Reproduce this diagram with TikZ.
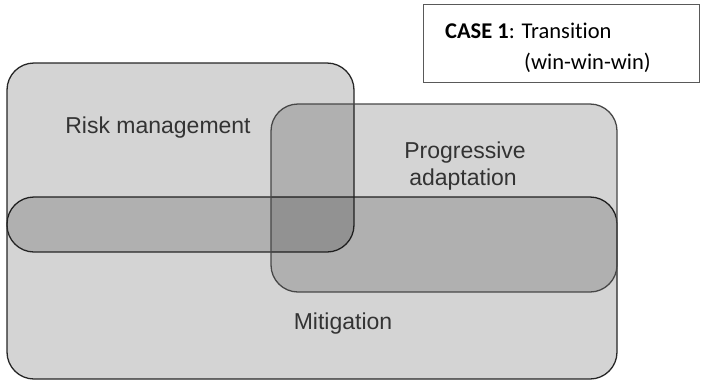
\documentclass[tikz,border=0pt]{standalone}
\usepackage{fontspec}
\setmainfont{Liberation Sans}
\newfontfamily\calfont[Ligatures={NoCommon}]{Carlito}
\begin{document}
\begin{tikzpicture}[x=1pt,y=-1pt,
  region/.style={draw=black!85, line width=1.3pt, fill=black, fill opacity=0.17, draw opacity=1,
    rounded corners=27pt, inner sep=0pt, outer sep=0pt, anchor=north west, rectangle},
  lab/.style={text=black!80, font=\fontsize{23}{27}\selectfont, anchor=base, inner sep=0pt},
  casebox/.style={draw=black!65, line width=0.9pt, fill=white, inner sep=0pt, outer sep=0pt, anchor=north west, rectangle},
  caselab/.style={text=black, font=\calfont\fontsize{22.5}{26}\selectfont, anchor=base west, inner sep=0pt}]
\useasboundingbox (0,0) rectangle (702,381);
% regions
\node[region, minimum width=610pt, minimum height=182pt] (mit) at (7,197) {};
\node[region, minimum width=347pt, minimum height=189pt] (rm) at (7,63) {};
\node[region, draw=black!72, minimum width=346pt, minimum height=188pt] (pa) at (271,104) {};
% labels
\node[lab] (rmtext) at (158,133) {Risk management};
\node[lab] (patext1) at (465,158) {Progressive};
\node[lab] (patext2) at (463,185) {adaptation};
\node[lab] (mittext) at (343,329) {Mitigation};
% case box
\node[casebox, minimum width=276pt, minimum height=78pt] (case) at (423,4) {};
\node[caselab] (case1) at (445,38) {\textbf{CASE 1}: Transition};
\node[caselab] (case2) at (524,69.5) {(win-win-win)};
\end{tikzpicture}
\end{document}
